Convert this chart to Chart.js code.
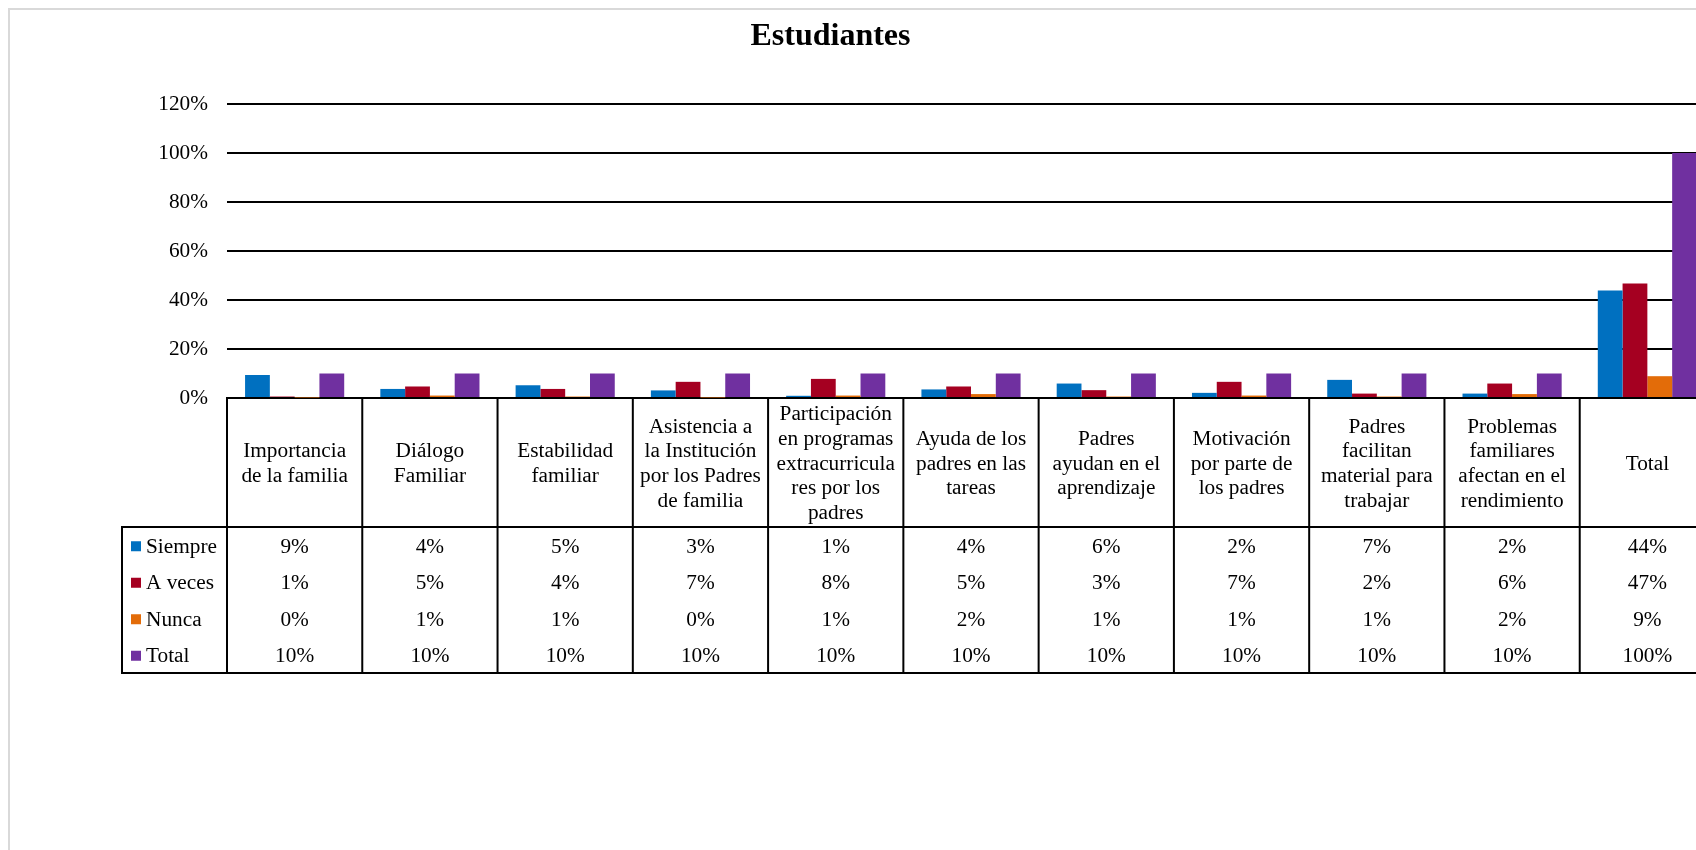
<!DOCTYPE html>
<html>
<head>
<meta charset="utf-8">
<script src="https://cdn.jsdelivr.net/npm/chart.js@4.4.0/dist/chart.umd.min.js"></script>
<style>
  html, body { margin: 0; padding: 0; background: #fff; overflow: hidden; width: 1696px; height: 850px; }
  #frame { position: absolute; left: 8px; top: 8px; width: 1800px; height: 900px; border-left: 2px solid #d9d9d9; border-top: 2px solid #d9d9d9; }
  #chart { position: absolute; left: 0; top: 0; }
</style>
</head>
<body>
<div id="frame"></div>
<canvas id="chart" width="1740" height="850"></canvas>
<script>
// categories (wrapped the way the data table shows them)
const categories = [
  ['Importancia', 'de la familia'],
  ['Diálogo', 'Familiar'],
  ['Estabilidad', 'familiar'],
  ['Asistencia a', 'la Institución', 'por los Padres', 'de familia'],
  ['Participación', 'en programas', 'extracurricula', 'res por los', 'padres'],
  ['Ayuda de los', 'padres en las', 'tareas'],
  ['Padres', 'ayudan en el', 'aprendizaje'],
  ['Motivación', 'por parte de', 'los padres'],
  ['Padres', 'facilitan', 'material para', 'trabajar'],
  ['Problemas', 'familiares', 'afectan en el', 'rendimiento'],
  ['Total']
];

// values in percent
const siempre = [9.4, 3.7, 5.2, 3.1, 0.9, 3.5, 5.9, 2.1, 7.4, 1.8, 43.9];
const aVeces  = [0.6, 4.7, 3.7, 6.6, 7.8, 4.7, 3.2, 6.6, 1.8, 5.9, 46.7];
const nunca   = [0.2, 1.0, 0.6, 0.2, 1.0, 1.6, 0.6, 1.0, 0.6, 1.6, 8.9];
const total   = [10, 10, 10, 10, 10, 10, 10, 10, 10, 10, 100];

const seriesNames = ['Siempre', 'A veces', 'Nunca', 'Total'];
const seriesColors = ['#0070C0', '#A50021', '#E36C09', '#7030A0'];
const seriesValues = [siempre, aVeces, nunca, total];

const yTicks = [0, 20, 40, 60, 80, 100, 120];

const FONT = '"Liberation Serif", "Times New Roman", serif';

// title + data table under the x axis
const dataTablePlugin = {
  id: 'dataTable',
  afterDraw(chart) {
    const { ctx, chartArea } = chart;
    const x = chart.scales.x;
    const step = x.getPixelForValue(1) - x.getPixelForValue(0);
    const top = chartArea.bottom;
    const headBottom = top + 129;
    const rowH = 36.5;
    const bottom = headBottom + rowH * 4;
    const keyLeft = 122;
    const right = chartArea.right;

    ctx.save();

    // title
    ctx.fillStyle = '#000';
    ctx.font = 'bold 32px ' + FONT;
    ctx.textAlign = 'center';
    ctx.textBaseline = 'alphabetic';
    ctx.fillText('Estudiantes', 830.5, 45);

    // table lines
    ctx.strokeStyle = '#000';
    ctx.lineWidth = 2;
    ctx.beginPath();
    for (let i = 0; i <= categories.length; i++) {
      const bx = x.getPixelForValue(i) - step / 2;
      ctx.moveTo(bx, top);
      ctx.lineTo(bx, bottom);
    }
    ctx.moveTo(keyLeft, headBottom);
    ctx.lineTo(keyLeft, bottom + 1);
    ctx.moveTo(keyLeft - 1, headBottom);
    ctx.lineTo(right, headBottom);
    ctx.moveTo(keyLeft - 1, bottom);
    ctx.lineTo(right, bottom);
    ctx.stroke();

    // header labels
    ctx.font = '21.3px ' + FONT;
    ctx.textBaseline = 'middle';
    ctx.textAlign = 'center';
    const lineH = 24.7;
    const headMid = (top + headBottom) / 2 + 1.5;
    categories.forEach((lines, i) => {
      const cx = x.getPixelForValue(i);
      const y0 = headMid - (lines.length - 1) * lineH / 2;
      lines.forEach((t, j) => ctx.fillText(t, cx, y0 + j * lineH));
    });

    // rows
    seriesNames.forEach((name, r) => {
      const cy = headBottom + rowH * (r + 0.5) + 2;
      ctx.fillStyle = seriesColors[r];
      ctx.fillRect(131, cy - 6, 10, 10);
      ctx.fillStyle = '#000';
      ctx.textAlign = 'left';
      ctx.fillText(name, 146, cy);
      ctx.textAlign = 'center';
      seriesValues[r].forEach((v, i) => {
        ctx.fillText(Math.round(v) + '%', x.getPixelForValue(i), cy);
      });
    });

    ctx.restore();
  }
};

new Chart(document.getElementById('chart'), {
  type: 'bar',
  data: {
    labels: categories,
    datasets: seriesNames.map((name, i) => ({
      label: name,
      data: seriesValues[i],
      backgroundColor: seriesColors[i],
      borderWidth: 0,
      categoryPercentage: 0.733,
      barPercentage: 1
    }))
  },
  options: {
    responsive: false,
    animation: false,
    devicePixelRatio: 1,
    layout: { padding: { top: 104, bottom: 177, left: 0, right: 25 } },
    plugins: {
      legend: { display: false },
      title: { display: false },
      tooltip: { enabled: false }
    },
    scales: {
      x: {
        type: 'category',
        ticks: { display: false },
        grid: { display: false, drawTicks: false },
        border: { display: true, color: '#000', width: 2 },
        afterFit(scale) { scale.height = 275; }
      },
      y: {
        min: 0,
        max: 120,
        afterBuildTicks(scale) { scale.ticks = yTicks.map(v => ({ value: v })); },
        ticks: {
          padding: 19,
          color: '#000',
          font: { family: FONT, size: 21.3 },
          callback: v => v + '%'
        },
        grid: { color: '#000', lineWidth: 2, drawTicks: false },
        border: { display: false },
        afterFit(scale) { scale.width = 227; }
      }
    }
  },
  plugins: [dataTablePlugin]
});
</script>
</body>
</html>
